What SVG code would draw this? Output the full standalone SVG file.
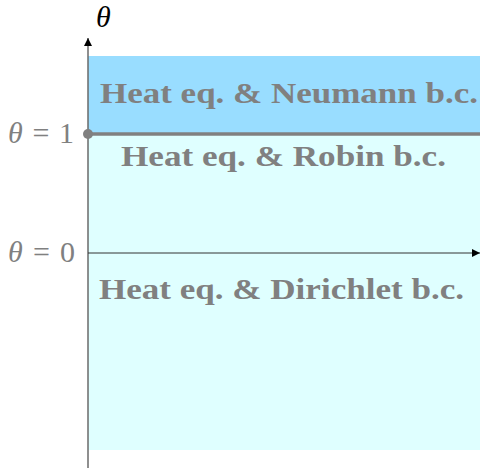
<svg xmlns="http://www.w3.org/2000/svg" width="480" height="469" viewBox="0 0 480 469">
<style>
.lbl{font-family:"Liberation Serif","DejaVu Serif",serif;font-weight:bold;fill:#808080;font-size:29px}
.math{font-family:"Liberation Serif","DejaVu Serif",serif;font-size:30px;fill:#808080}
</style>
<defs>
<marker id="arr" viewBox="0 0 10 10" refX="10" refY="5" markerWidth="10" markerHeight="8" markerUnits="userSpaceOnUse" orient="auto">
<path d="M0,0 L10,5 L0,10 Z" fill="#000"/>
</marker>
</defs>
<g id="regions">
<rect id="dirichlet" x="88" y="134" width="392" height="316" fill="#DFFFFF"/>
<rect id="neumann" x="88" y="56" width="392" height="78" fill="#99DDFF"/>
</g>
<g id="connectors">
<line x1="88" y1="468" x2="88" y2="38" stroke="#6a6a6a" stroke-width="1.5" marker-end="url(#arr)"/>
<line x1="88" y1="253" x2="480" y2="253" stroke="#333" stroke-width="1" marker-end="url(#arr)"/>
<line x1="88" y1="134" x2="480" y2="134" stroke="#808080" stroke-width="3.5"/>
<circle cx="88" cy="134" r="5" fill="#808080"/>
</g>
<g id="labels">
<text class="lbl" x="100" y="103" textLength="378" lengthAdjust="spacingAndGlyphs">Heat eq.  &amp; Neumann b.c.</text>
<text class="lbl" x="121" y="166" textLength="325" lengthAdjust="spacingAndGlyphs">Heat eq.  &amp; Robin b.c.</text>
<text class="lbl" x="99" y="299" textLength="365" lengthAdjust="spacingAndGlyphs">Heat eq.  &amp; Dirichlet b.c.</text>
<text class="math" x="8" y="143" textLength="66" lengthAdjust="spacing"><tspan font-style="italic">θ</tspan> = 1</text>
<text class="math" x="8" y="262" textLength="67" lengthAdjust="spacing"><tspan font-style="italic">θ</tspan> = 0</text>
<text class="math" x="96" y="27" font-style="italic" style="fill:#000">θ</text>
</g>
</svg>
